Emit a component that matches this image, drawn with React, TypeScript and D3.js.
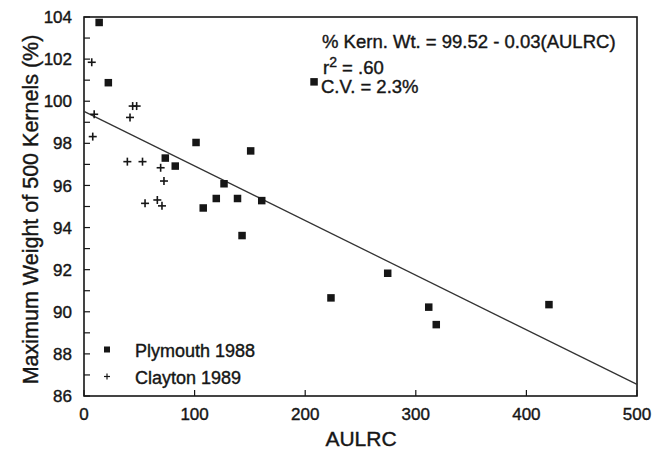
import React from "react";
import * as d3 from "d3";

const plymouthX = [13.7, 22, 208, 101.3, 150.7, 73.5, 82.5, 126.6, 119.6, 138.8, 160.7, 107.8, 142.9, 274.6, 223.3, 311.7, 318.5, 420.4];
const plymouthY = [103.74, 100.88, 100.92, 98.04, 97.64, 97.3, 96.92, 96.08, 95.38, 95.38, 95.28, 94.93, 93.62, 91.83, 90.66, 90.22, 89.39, 90.34];

const claytonX = [7.0, 9.2, 7.9, 44.0, 47.6, 41.6, 39.2, 52.9, 69.3, 72.3, 55.2, 66.3, 70.5];
const claytonY = [101.85, 99.38, 98.32, 99.77, 99.77, 99.23, 97.13, 97.13, 96.84, 96.21, 95.15, 95.31, 95.03];

const regX = [0, 500];
const regY = [99.52, 86.55];

const xTicks = [0, 100, 200, 300, 400, 500];
const yLabelTicks = [86, 88, 90, 92, 94, 96, 98, 100, 102, 104];
const yMinorTicks = d3.range(86, 105, 1);

const legendLabels = ["Plymouth 1988", "Clayton 1989"];
const annotation = ["% Kern. Wt. = 99.52 - 0.03(AULRC)", ".60", "C.V. = 2.3%"];

const W = 652, H = 451;
const L = 84, R = 637, T = 17, B = 396;
const FONT = "'Liberation Sans', Arial, Helvetica, sans-serif";
const INK = "#161616";

export default function App() {
  const x = d3.scaleLinear().domain([0, 500]).range([L, R]);
  const y = d3.scaleLinear().domain([86, 104]).range([B, T]);
  const line = d3.line<number>().x((_, i) => x(regX[i])).y((_, i) => y(regY[i]));
  const sq = 7.5;
  const cr = 4;
  const textStyle = { stroke: INK, strokeWidth: 0.4, fill: INK } as const;
  return (
    <svg width={W} height={H} style={{ position: "absolute", left: 0, top: 0, background: "#fff" }} fontFamily={FONT}>
      <rect x={0} y={0} width={W} height={H} fill="#fff" />
      <rect x={L} y={T} width={R - L} height={B - T} fill="none" stroke={INK} strokeWidth={1.6} />
      {yMinorTicks.map((v) => (
        <line key={"yt" + v} x1={L} x2={L + 6} y1={y(v)} y2={y(v)} stroke={INK} strokeWidth={1.2} />
      ))}
      <g {...textStyle}>
        {yLabelTicks.map((v) => (
          <text key={"yl" + v} x={L - 12} y={y(v)} dy="0.36em" textAnchor="end" fontSize={17}>{v}</text>
        ))}
      </g>
      {xTicks.map((v) => (
        <g key={"xt" + v}>
          <line x1={x(v)} x2={x(v)} y1={B} y2={B - 6} stroke={INK} strokeWidth={1.2} />
          <text x={x(v)} y={B + 24} textAnchor="middle" fontSize={17} {...textStyle}>{v}</text>
        </g>
      ))}
      <path d={line(regX) || ""} fill="none" stroke="#333" strokeWidth={1.3} />
      {plymouthX.map((v, i) => (
        <rect key={"p" + i} x={x(v) - sq / 2} y={y(plymouthY[i]) - sq / 2} width={sq} height={sq} fill={INK} />
      ))}
      {claytonX.map((v, i) => (
        <g key={"c" + i} stroke={INK} strokeWidth={1.6}>
          <line x1={x(v) - cr} x2={x(v) + cr} y1={y(claytonY[i])} y2={y(claytonY[i])} />
          <line x1={x(v)} x2={x(v)} y1={y(claytonY[i]) - cr} y2={y(claytonY[i]) + cr} />
        </g>
      ))}
      <rect x={107 - 3} y={349.5 - 3} width={6} height={6} fill={INK} />
      <text x={135} y={357} fontSize={18} {...textStyle}>{legendLabels[0]}</text>
      <g stroke={INK} strokeWidth={1.2}>
        <line x1={104} x2={110} y1={376.5} y2={376.5} />
        <line x1={107} x2={107} y1={373.5} y2={379.5} />
      </g>
      <text x={135} y={384} fontSize={18} {...textStyle}>{legendLabels[1]}</text>
      <text x={322} y={48} fontSize={18.5} {...textStyle}>{annotation[0]}</text>
      <text x={323} y={74} fontSize={18.5} {...textStyle}>
        r<tspan fontSize={14} dy={-7}>2</tspan><tspan dy={7}> = {annotation[1]}</tspan>
      </text>
      <text x={321} y={93} fontSize={18.5} {...textStyle}>{annotation[2]}</text>
      <text x={361} y={446} textAnchor="middle" fontSize={21} {...textStyle}>AULRC</text>
      <text transform={`translate(38, ${(T + B) / 2 + 3}) rotate(-90)`} textAnchor="middle" fontSize={21.5} {...textStyle}>
        Maximum Weight of 500 Kernels (%)
      </text>
    </svg>
  );
}
